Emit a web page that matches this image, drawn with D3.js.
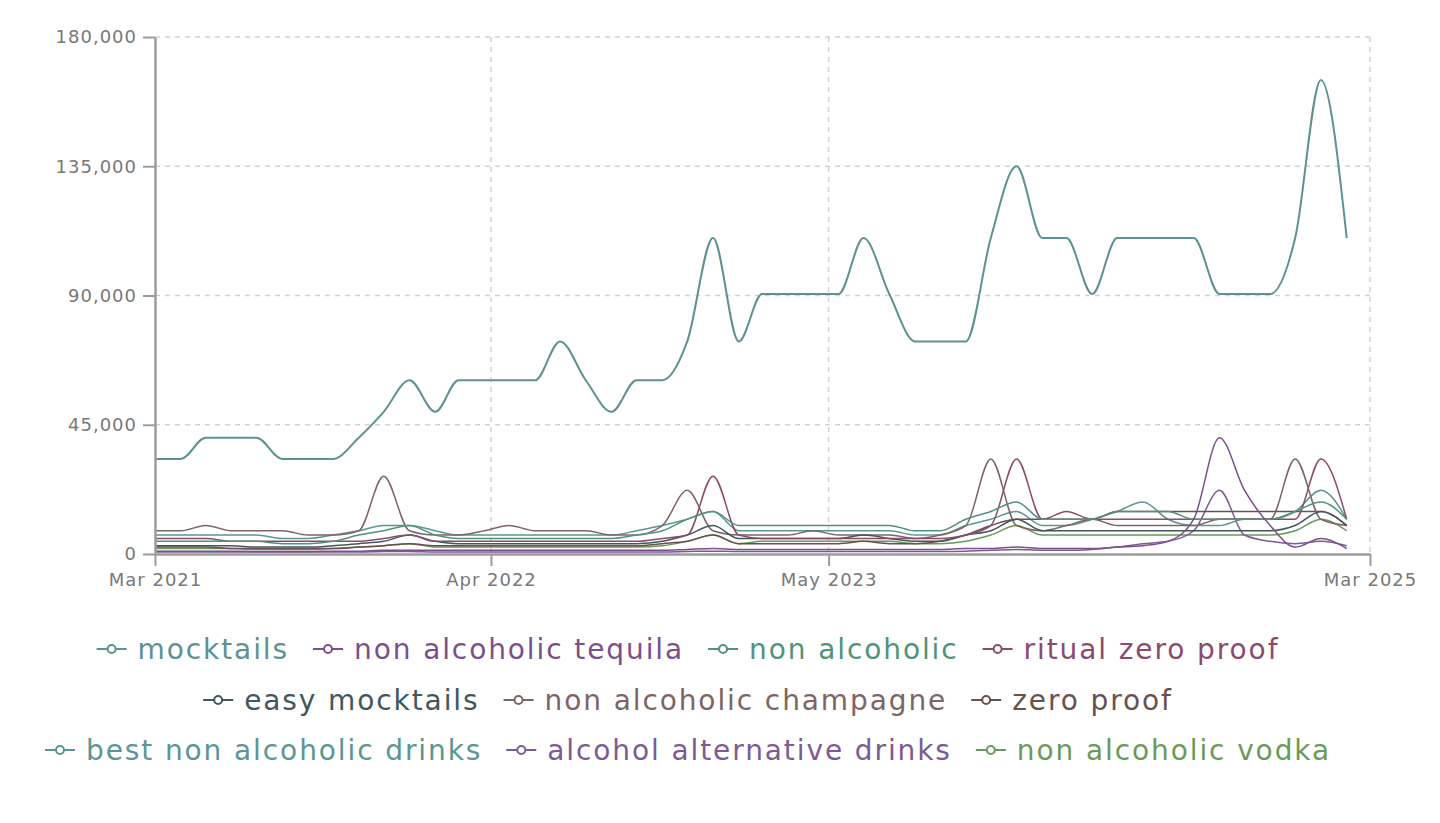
<!DOCTYPE html>
<html>
<head>
<meta charset="utf-8">
<script src="https://cdn.jsdelivr.net/npm/d3@7"></script>
<style>
  body { margin: 0; background: #fff; }
  svg { display: block; }
</style>
</head>
<body>
<script>
// months Mar 2021 .. Feb 2025
const months = [
  "2021-03","2021-04","2021-05","2021-06","2021-07","2021-08","2021-09","2021-10","2021-11","2021-12",
  "2022-01","2022-02","2022-03","2022-04","2022-05","2022-06","2022-07","2022-08","2022-09","2022-10","2022-11","2022-12",
  "2023-01","2023-02","2023-03","2023-04","2023-05","2023-06","2023-07","2023-08","2023-09","2023-10","2023-11","2023-12",
  "2024-01","2024-02","2024-03","2024-04","2024-05","2024-06","2024-07","2024-08","2024-09","2024-10","2024-11","2024-12",
  "2025-01","2025-02"
];

const mocktails = [33100,33100,40500,40500,40500,33100,33100,33100,40500,49500,60500,49500,60500,60500,60500,60500,74000,60500,49500,60500,60500,74000,110000,74000,90500,90500,90500,90500,110000,90500,74000,74000,74000,110000,135000,110000,110000,90500,110000,110000,110000,110000,90500,90500,90500,110000,165000,110000];
const nonAlcoholicTequila = [1000,1000,1000,1000,880,880,880,1000,1000,1300,1300,1300,1300,1300,1300,1300,1300,1300,1300,1300,1300,1600,1900,1600,1600,1600,1600,1600,1600,1600,1600,1600,1900,1900,2400,1900,1900,1900,2400,2900,4400,12100,40500,22200,9900,2400,5400,1900];
const nonAlcoholic = [4400,4400,4400,4400,4400,3600,3600,4400,6600,8100,9900,6600,5400,5400,5400,5400,5400,5400,5400,6600,8100,12100,14800,9900,9900,9900,9900,9900,9900,9900,8100,8100,12100,14800,18100,12100,12100,12100,14800,14800,14800,12100,12100,12100,12100,14800,18100,12100];
const ritualZeroProof = [5400,5400,5400,4400,4400,4400,4400,4400,4400,5400,6600,4400,4400,4400,4400,4400,4400,4400,4400,4400,5400,6600,27100,6600,5400,5400,5400,5400,5400,5400,5400,5400,6600,9900,33100,12100,14800,12100,12100,12100,12100,12100,12100,12100,12100,12100,33100,12100];
const easyMocktails = [2900,2900,2900,2900,2400,2400,2400,2900,3600,4400,6600,4400,3600,3600,3600,3600,3600,3600,3600,3600,4400,6600,9900,5400,5400,5400,5400,5400,6600,5400,4400,4400,6600,8100,12100,8100,8100,8100,8100,8100,8100,8100,8100,8100,8100,9900,14800,9900];
const nonAlcoholicChampagne = [8100,8100,9900,8100,8100,8100,6600,6600,8100,27100,8100,6600,6600,8100,9900,8100,8100,8100,6600,6600,9900,22200,8100,6600,6600,6600,8100,6600,6600,6600,5400,6600,9900,33100,9900,8100,9900,12100,9900,9900,9900,9900,12100,12100,12100,33100,12100,9900];
const zeroProof = [2400,2400,2400,1900,1900,1900,1900,1900,2400,2900,3600,2900,2900,2900,2900,2900,2900,2900,2900,2900,3600,4400,6600,3600,3600,3600,3600,3600,4400,3600,3600,4400,6600,9900,12100,12100,12100,12100,14800,14800,14800,14800,14800,14800,14800,14800,14800,9900];
const bestNonAlcoholicDrinks = [6600,6600,6600,6600,6600,5400,5400,6600,8100,9900,9900,8100,6600,6600,6600,6600,6600,6600,6600,8100,9900,12100,14800,8100,8100,8100,8100,8100,8100,8100,6600,6600,9900,12100,14800,9900,9900,12100,14800,18100,12100,9900,9900,12100,12100,14800,22200,12100];
const alcoholAlternativeDrinks = [720,720,720,720,720,720,720,720,720,880,880,720,720,720,720,720,720,720,720,720,720,880,1000,880,880,880,880,880,880,880,880,880,1000,1300,1600,1300,1300,1600,2400,3600,4400,8100,22200,6600,4400,3600,4400,2900];
const nonAlcoholicVodka = [1900,1900,1900,1900,1600,1600,1600,1900,2400,2900,3600,2400,2400,2400,2400,2400,2400,2400,2400,2400,2900,4400,6600,3600,4400,4400,4400,4400,4400,4400,3600,3600,4400,6600,9900,6600,6600,6600,6600,6600,6600,6600,6600,6600,6600,8100,12100,8100];

const seriesNames = ["mocktails","non alcoholic tequila","non alcoholic","ritual zero proof","easy mocktails","non alcoholic champagne","zero proof","best non alcoholic drinks","alcohol alternative drinks","non alcoholic vodka"];
const seriesValues = [mocktails,nonAlcoholicTequila,nonAlcoholic,ritualZeroProof,easyMocktails,nonAlcoholicChampagne,zeroProof,bestNonAlcoholicDrinks,alcoholAlternativeDrinks,nonAlcoholicVodka];
const seriesColors = ["#5c9292","#7b4f8b","#4f9479","#8b4a6e","#40585c","#7e6464","#6b4f4f","#5b9595","#7d5a94","#6a9a58"];

const yTicks = [0,45000,90000,135000,180000];
const xTickDates = ["2021-03-01","2022-04-09","2023-05-20","2025-03-01"];

const WIDTH = 1440;
const HEIGHT = 823;
const LEFT = 155, RIGHT = 1370, TOP = 37, BOTTOM = 554;

const parseMonth = d3.utcParse("%Y-%m");
const parseDay = d3.utcParse("%Y-%m-%d");
const dates = months.map(parseMonth);
const tickDates = xTickDates.map(parseDay);

const svg = d3.select("body")
  .append("svg")
  .attr("width", WIDTH)
  .attr("height", HEIGHT);

const x = d3.scaleUtc()
  .domain([parseDay("2021-03-01"), parseDay("2025-03-01")])
  .range([LEFT, RIGHT]);

const y = d3.scaleLinear()
  .domain([0, 180000])
  .range([BOTTOM, TOP]);

// dashed grid
svg.append("g")
  .selectAll("line")
  .data(yTicks.slice(1))
  .enter()
  .append("line")
  .attr("x1", LEFT)
  .attr("x2", RIGHT)
  .attr("y1", d => y(d))
  .attr("y2", d => y(d))
  .attr("stroke", "#d2d2d2")
  .attr("stroke-width", 1.5)
  .attr("stroke-dasharray", "5,5");

svg.append("g")
  .selectAll("line")
  .data(tickDates.slice(1))
  .enter()
  .append("line")
  .attr("x1", d => x(d))
  .attr("x2", d => x(d))
  .attr("y1", TOP)
  .attr("y2", BOTTOM)
  .attr("stroke", "#d2d2d2")
  .attr("stroke-width", 1.5)
  .attr("stroke-dasharray", "5,5");

// lines
const line = d3.line()
  .x((d, i) => x(dates[i]))
  .y(d => y(d))
  .curve(d3.curveMonotoneX);

svg.append("g")
  .selectAll("path")
  .data(seriesValues.map((v, i) => ({v, i})).reverse())
  .enter()
  .append("path")
  .attr("d", d => line(d.v))
  .attr("fill", "none")
  .attr("stroke", d => seriesColors[d.i])
  .attr("stroke-width", d => d.i === 0 ? 2 : 1.5)
  .attr("stroke-linejoin", "round");

// axes
const yAxis = d3.axisLeft(y)
  .tickValues(yTicks)
  .tickFormat(d3.format(","))
  .tickSize(12)
  .tickPadding(6);

const xAxis = d3.axisBottom(x)
  .tickValues(tickDates)
  .tickFormat(d3.utcFormat("%b %Y"))
  .tickSize(12)
  .tickPadding(7);

const styleAxis = g => {
  g.select(".domain").attr("stroke", "#9c9c9c").attr("stroke-width", 2.5);
  g.selectAll(".tick line").attr("stroke", "#9c9c9c").attr("stroke-width", 2);
  g.selectAll(".tick text")
    .attr("fill", "#787878")
    .style("font-family", "'DejaVu Sans', sans-serif")
    .style("font-size", "18px")
    .style("letter-spacing", "1px");
};

svg.append("g")
  .attr("transform", "translate(0," + BOTTOM + ")")
  .call(xAxis.tickSizeOuter(0))
  .call(styleAxis);

svg.append("g")
  .attr("transform", "translate(" + LEFT + ",0)")
  .call(yAxis.tickSizeOuter(0))
  .call(styleAxis);

// legend
const legendRows = [649, 700, 750];
const legendCenter = 688;
const maxRowWidth = 1340;
const gap = 24;

const legend = svg.append("g");
const items = seriesNames.map((name, i) => {
  const g = legend.append("g");
  g.append("line")
    .attr("x1", 0).attr("x2", 30)
    .attr("y1", 0).attr("y2", 0)
    .attr("stroke", seriesColors[i])
    .attr("stroke-width", 2);
  g.append("circle")
    .attr("cx", 15).attr("cy", 0).attr("r", 4)
    .attr("fill", "#fff")
    .attr("stroke", seriesColors[i])
    .attr("stroke-width", 2);
  const t = g.append("text")
    .attr("x", 41)
    .attr("dy", "0.35em")
    .attr("fill", seriesColors[i])
    .style("font-family", "'DejaVu Sans', sans-serif")
    .style("font-size", "28px")
    .style("letter-spacing", "1.9px")
    .text(name);
  const w = 41 + t.node().getComputedTextLength();
  return {g, w};
});

const rows = [[]];
let rowW = 0;
items.forEach(it => {
  const add = rows[rows.length - 1].length ? gap + it.w : it.w;
  if (rowW + add > maxRowWidth && rows[rows.length - 1].length) {
    rows.push([it]);
    rowW = it.w;
  } else {
    rows[rows.length - 1].push(it);
    rowW += add;
  }
});

rows.forEach((row, r) => {
  const total = d3.sum(row, d => d.w) + gap * (row.length - 1);
  let cx = legendCenter - total / 2;
  row.forEach(it => {
    it.g.attr("transform", "translate(" + cx + "," + legendRows[r] + ")");
    cx += it.w + gap;
  });
});
</script>
</body>
</html>
